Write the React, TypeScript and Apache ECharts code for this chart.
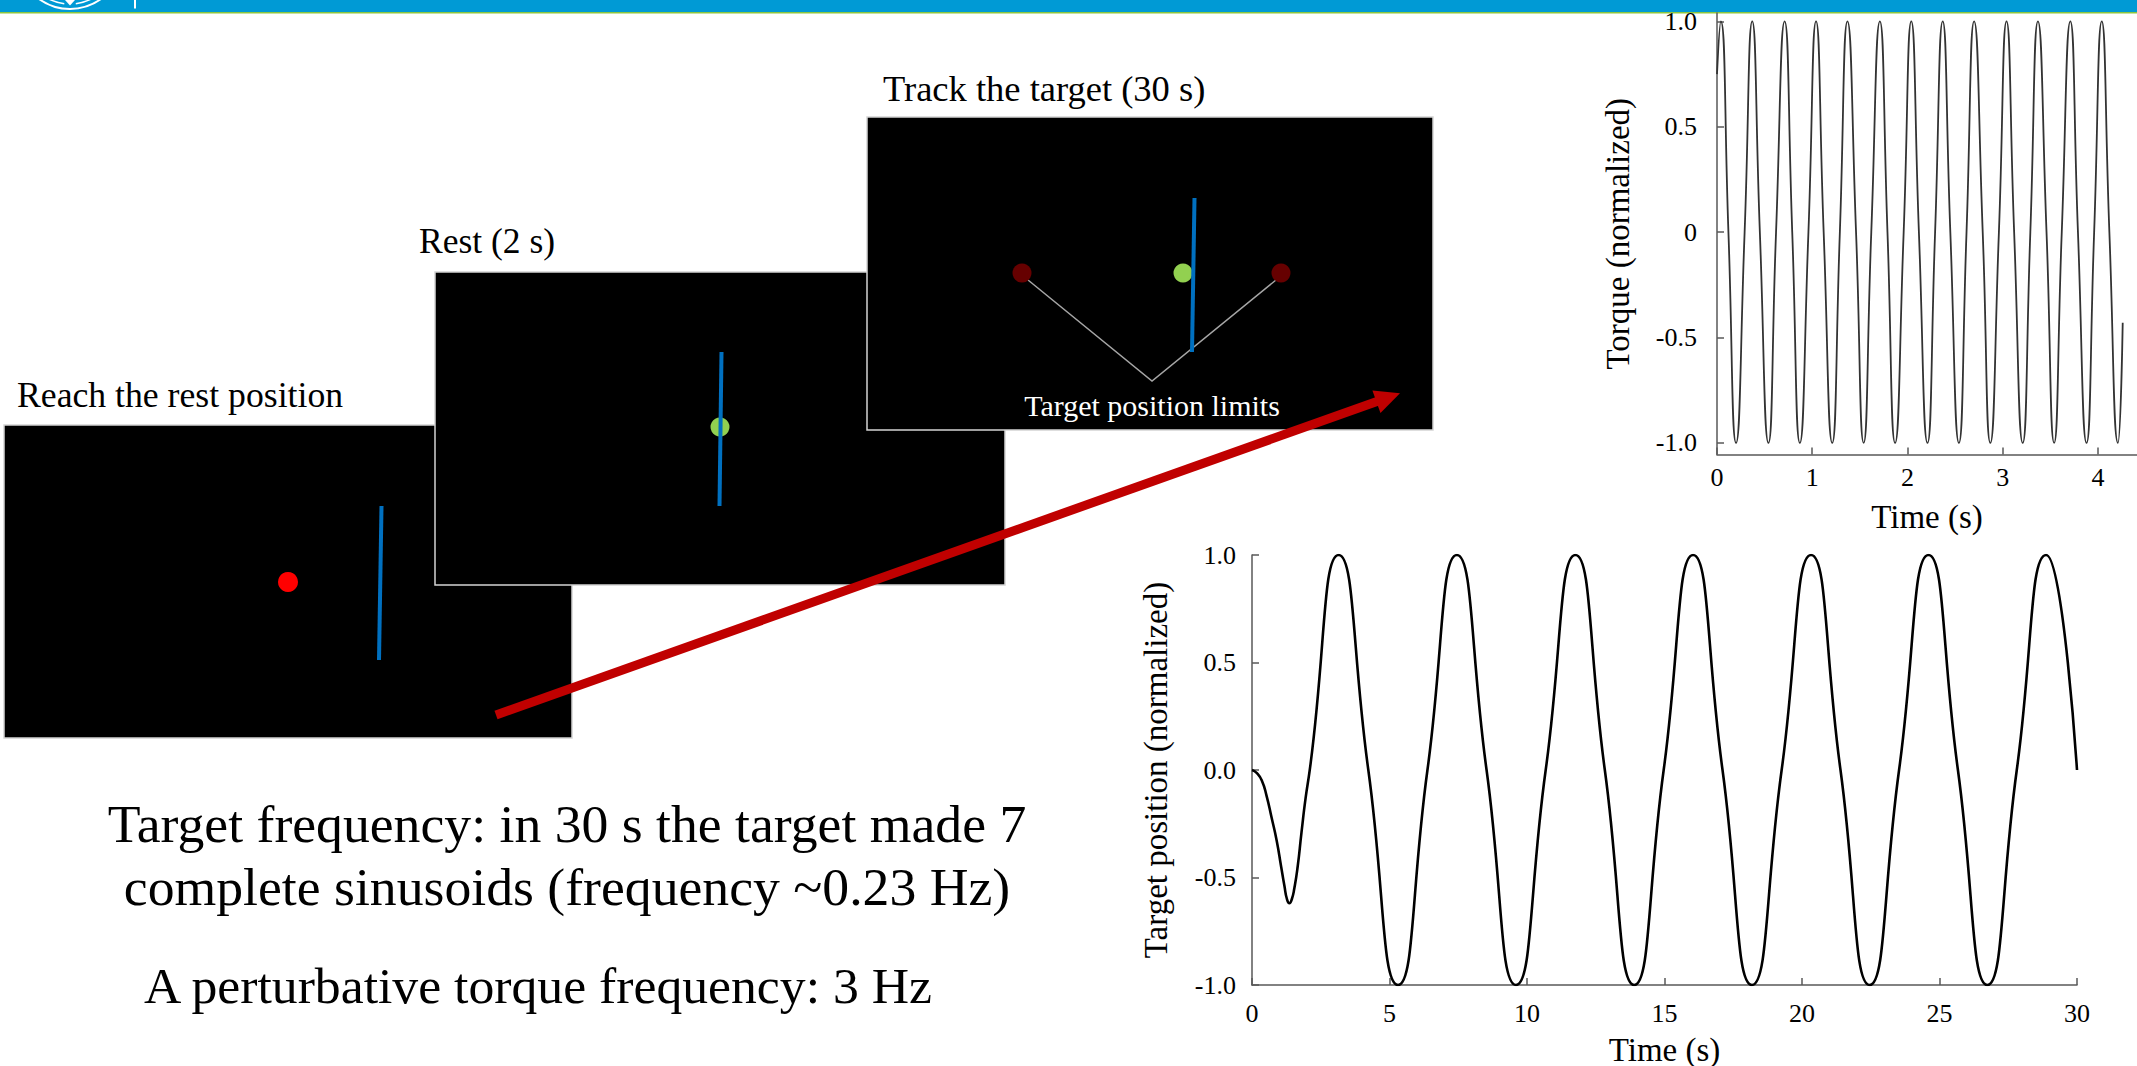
import React, { useEffect, useRef } from 'react';
import * as echarts from 'echarts';

// Perturbative torque (3 Hz): peaks, zero crossings and troughs, first 4.26 s
const torqueTrace: [number, number][] = [
  [0, 0.75], [0.04, 1], [0.12, 0], [0.2, -1], [0.29, 0],
  [0.37, 1], [0.45, 0], [0.54, -1], [0.62, 0],
  [0.71, 1], [0.79, 0], [0.87, -1], [0.96, 0],
  [1.04, 1], [1.12, 0], [1.21, -1], [1.29, 0],
  [1.37, 1], [1.46, 0], [1.54, -1], [1.62, 0],
  [1.71, 1], [1.79, 0], [1.87, -1], [1.96, 0],
  [2.04, 1], [2.12, 0], [2.21, -1], [2.29, 0],
  [2.37, 1], [2.45, 0], [2.54, -1], [2.62, 0],
  [2.7, 1], [2.79, 0], [2.87, -1], [2.96, 0],
  [3.04, 1], [3.12, 0], [3.21, -1], [3.29, 0],
  [3.37, 1], [3.46, 0], [3.54, -1], [3.62, 0],
  [3.71, 1], [3.79, 0], [3.88, -1], [3.96, 0],
  [4.04, 1], [4.12, 0], [4.21, -1], [4.26, -0.43],
];

// Target position over the 30 s tracking phase: initial dip, then 7 full sinusoids
const targetTrace: [number, number][] = [
  [0, 0], [0.18, -0.015], [0.36, -0.05], [0.53, -0.12], [0.71, -0.22],
  [0.9, -0.33], [1.06, -0.45], [1.18, -0.54], [1.27, -0.6], [1.36, -0.62],
  [1.45, -0.6], [1.54, -0.55], [1.66, -0.45], [1.8, -0.29], [1.95, -0.13],
  [2.1, 0], [3.15, 1], [4.23, 0],
  [5.31, -1], [6.38, 0], [7.45, 1], [8.53, 0],
  [9.6, -1], [10.68, 0], [11.76, 1], [12.83, 0],
  [13.9, -1], [14.97, 0], [16.04, 1], [17.11, 0],
  [18.18, -1], [19.26, 0], [20.33, 1], [21.4, 0],
  [22.46, -1], [23.53, 0], [24.6, 1], [25.67, 0],
  [26.74, -1], [27.81, 0], [28.88, 1], [30, 0],
];

const torqueXTicks = [0, 1, 2, 3, 4];
const torqueXLabels = ['0', '1', '2', '3', '4'];
const torqueYTicks = [-1, -0.5, 0, 0.5, 1];
const torqueYLabels = ['-1.0', '-0.5', '0', '0.5', '1.0'];
const targetXTicks = [0, 5, 10, 15, 20, 25, 30];
const targetXLabels = ['0', '5', '10', '15', '20', '25', '30'];
const targetYTicks = [-1, -0.5, 0, 0.5, 1];
const targetYLabels = ['-1.0', '-0.5', '0.0', '0.5', '1.0'];

const stageTitles = ['Reach the rest position', 'Rest (2 s)', 'Track the target (30 s)'];
const limitsCaption = 'Target position limits';
const noteLines = [
  'Target frequency: in 30 s the target made 7',
  'complete sinusoids (frequency ~0.23 Hz)',
  'A perturbative torque frequency: 3 Hz',
];

const SERIF = "'Liberation Serif', 'Times New Roman', Times, serif";
const AXIS_COLOR = '#595959';
const BLUE_BAR = '#0070C0';
const GREEN_DOT = '#92D050';
const DARK_RED = '#660000';
const PANEL_EDGE = '#d4d4d4';

function axis(ticks: number[], labels: string[], margin: number) {
  return {
    type: 'value',
    axisLine: { show: true, onZero: false, lineStyle: { color: AXIS_COLOR, width: 1.5 } },
    axisTick: {
      show: true,
      inside: true,
      length: 7,
      customValues: ticks,
      lineStyle: { color: AXIS_COLOR, width: 1.5 },
    },
    axisLabel: {
      show: true,
      customValues: ticks,
      margin,
      color: '#000',
      fontFamily: SERIF,
      fontSize: 26,
      formatter: (v: number) => {
        const i = ticks.findIndex((t) => Math.abs(t - v) < 1e-9);
        return i >= 0 ? labels[i] : '';
      },
    },
    splitLine: { show: false },
    nameTextStyle: { fontFamily: SERIF, fontSize: 33, color: '#000' },
  };
}

function text(str: string, x: number, y: number, size: number, align: string, fill = '#000') {
  return {
    type: 'text',
    x,
    y,
    silent: true,
    style: {
      text: str,
      fill,
      fontSize: size,
      fontFamily: SERIF,
      align,
      textAlign: align,
      verticalAlign: 'middle',
      textVerticalAlign: 'middle',
    },
  };
}

function seg(x1: number, y1: number, x2: number, y2: number, color: string, width: number) {
  return {
    type: 'line',
    silent: true,
    shape: { x1, y1, x2, y2 },
    style: { stroke: color, lineWidth: width, lineCap: 'butt' },
  };
}

function dot(cx: number, cy: number, r: number, color: string) {
  return { type: 'circle', silent: true, shape: { cx, cy, r }, style: { fill: color } };
}

function panel(x: number, y: number, width: number, height: number) {
  return {
    type: 'rect',
    silent: true,
    shape: { x, y, width, height },
    style: { fill: '#000', stroke: PANEL_EDGE, lineWidth: 1.5 },
  };
}

function buildGraphics() {
  // Arrow from the first screen to the tracking screen
  const ax0 = 496, ay0 = 715, tipX = 1400, tipY = 393.3;
  const len = Math.hypot(tipX - ax0, tipY - ay0);
  const ux = (tipX - ax0) / len, uy = (tipY - ay0) / len;
  const headLen = 25, headHalf = 12;
  const bx = tipX - ux * headLen, by = tipY - uy * headLen;
  const nx = -uy, ny = ux;

  return [
    // Header band
    { type: 'rect', silent: true, shape: { x: 0, y: 0, width: 2137, height: 12 }, style: { fill: '#009AD5' } },
    { type: 'rect', silent: true, shape: { x: 0, y: 12, width: 2137, height: 1.5 }, style: { fill: '#8DC63F' } },
    {
      type: 'arc', silent: true,
      shape: { cx: 70, cy: -44, r: 53, startAngle: 0.95, endAngle: 2.19, clockwise: true },
      style: { stroke: '#fff', lineWidth: 2, fill: 'none' },
    },
    {
      type: 'arc', silent: true,
      shape: { cx: 70, cy: -44, r: 48, startAngle: 1.1, endAngle: 1.45, clockwise: true },
      style: { stroke: '#fff', lineWidth: 1.5, fill: 'none' },
    },
    {
      type: 'arc', silent: true,
      shape: { cx: 70, cy: -44, r: 48, startAngle: 1.69, endAngle: 2.04, clockwise: true },
      style: { stroke: '#fff', lineWidth: 1.5, fill: 'none' },
    },
    { type: 'polygon', silent: true, shape: { points: [[65, 0], [75, 0], [70, 5.5]] }, style: { fill: '#fff' } },
    { type: 'rect', silent: true, shape: { x: 134, y: 0, width: 2, height: 8.5 }, style: { fill: '#fff' } },

    // Screen 1: reach the rest position
    text(stageTitles[0], 17, 395, 35.7, 'left'),
    panel(4, 425, 568, 313),
    dot(288, 582, 10, '#FF0000'),
    seg(381.5, 506, 379, 660, BLUE_BAR, 4),

    // Screen 2: rest
    text(stageTitles[1], 419, 241, 35.5, 'left'),
    panel(435, 272, 570, 313),
    dot(720, 427, 9.5, GREEN_DOT),
    seg(721.5, 352, 719.5, 506, BLUE_BAR, 4),

    // Screen 3: track the target
    text(stageTitles[2], 883, 88, 36.5, 'left'),
    panel(867, 117, 566, 313),
    {
      type: 'polyline', silent: true,
      shape: { points: [[1028, 280], [1152, 381], [1276, 280]] },
      style: { stroke: '#a6a6a6', lineWidth: 1.5, fill: 'none' },
    },
    dot(1022, 273, 9.5, DARK_RED),
    dot(1281, 273, 9.5, DARK_RED),
    dot(1183, 273, 9.5, GREEN_DOT),
    seg(1194.5, 198, 1192, 352, BLUE_BAR, 4),
    text(limitsCaption, 1152, 405, 30, 'center', '#fff'),

    // Red arrow
    seg(ax0, ay0, bx + ux * 2, by + uy * 2, '#C00000', 9),
    {
      type: 'polygon', silent: true,
      shape: {
        points: [
          [tipX, tipY],
          [bx + nx * headHalf, by + ny * headHalf],
          [bx - nx * headHalf, by - ny * headHalf],
        ],
      },
      style: { fill: '#C00000' },
    },

    // Notes
    text(noteLines[0], 567, 824, 53.7, 'center'),
    text(noteLines[1], 567, 887, 53.7, 'center'),
    text(noteLines[2], 538, 985, 51.7, 'center'),
  ];
}

function buildOption() {
  return {
    animation: false,
    backgroundColor: '#fff',
    textStyle: { fontFamily: SERIF },
    grid: [
      { left: 1717, top: 13, width: 420, height: 441.5, containLabel: false, outerBoundsMode: 'none' },
      { left: 1252, top: 555, width: 825, height: 430, containLabel: false, outerBoundsMode: 'none' },
    ],
    xAxis: [
      {
        ...axis(torqueXTicks, torqueXLabels, 10),
        gridIndex: 0,
        min: 0,
        max: 4.41,
        name: 'Time (s)',
        nameLocation: 'middle',
        nameGap: 46,
      },
      {
        ...axis(targetXTicks, targetXLabels, 15),
        gridIndex: 1,
        min: 0,
        max: 30,
        name: 'Time (s)',
        nameLocation: 'middle',
        nameGap: 48,
      },
    ],
    yAxis: [
      {
        ...axis(torqueYTicks, torqueYLabels, 20),
        gridIndex: 0,
        min: -1.055,
        max: 1.04,
        name: 'Torque (normalized)',
        nameLocation: 'middle',
        nameRotate: 90,
        nameGap: 83,
      },
      {
        ...axis(targetYTicks, targetYLabels, 16),
        gridIndex: 1,
        min: -1,
        max: 1,
        name: 'Target position (normalized)',
        nameLocation: 'middle',
        nameRotate: 90,
        nameGap: 80,
      },
    ],
    series: [
      {
        type: 'line',
        xAxisIndex: 0,
        yAxisIndex: 0,
        data: torqueTrace,
        showSymbol: false,
        symbol: 'none',
        smooth: 0.55,
        silent: true,
        lineStyle: { color: '#333', width: 1.8 },
      },
      {
        type: 'line',
        xAxisIndex: 1,
        yAxisIndex: 1,
        data: targetTrace,
        showSymbol: false,
        symbol: 'none',
        smooth: 0.55,
        silent: true,
        lineStyle: { color: '#000', width: 2.6 },
      },
    ],
    graphic: buildGraphics(),
  };
}

export default function App() {
  const ref = useRef<HTMLDivElement>(null);
  useEffect(() => {
    const el = ref.current;
    if (!el) return;
    const chart = echarts.init(el, undefined, { renderer: 'svg' });
    chart.setOption(buildOption() as any);
    return () => chart.dispose();
  }, []);
  return (
    <div
      ref={ref}
      style={{ position: 'fixed', left: 0, top: 0, width: 2137, height: 1066, background: '#fff' }}
    />
  );
}
